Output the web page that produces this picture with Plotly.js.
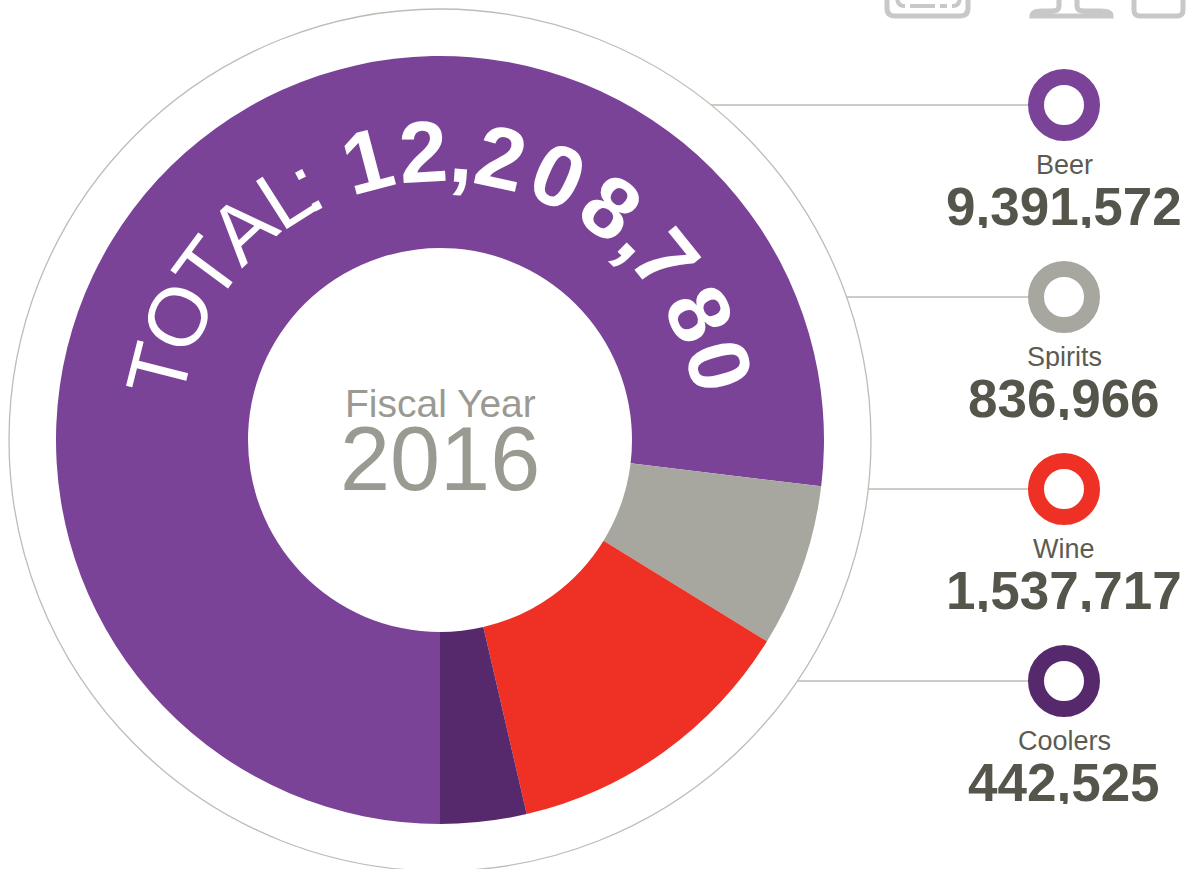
<!DOCTYPE html>
<html>
<head>
<meta charset="utf-8">
<script src="https://cdn.plot.ly/plotly-3.0.1.min.js"></script>
<style>
  html, body { margin: 0; padding: 0; background: #ffffff; }
  #chart { width: 1194px; height: 869px; }
</style>
</head>
<body>
<div id="chart"></div>
<script>
// ---- data ----
var categories = ['Beer', 'Spirits', 'Wine', 'Coolers'];
var values = [9391572, 836966, 1537717, 442525];
var sliceColors = ['#7a4398', '#a7a79f', '#ee3124', '#55296c'];
var centerLabel = 'Fiscal Year';
var fiscalYear = '2016';
var totalPrefix = 'TOTAL: ';

// ---- layout constants ----
var W = 1194, H = 869;
var CX = 440, CY = 440, R_OUT = 384, R_RING = 431;
var LEG_X = 1064, LEG_Y0 = 105, LEG_DY = 192;
var FONT = 'Liberation Sans, Arial, Helvetica, sans-serif';
var TEXT_R = 289;
// angles (deg, clockwise from 12 o'clock) of each non-space character of the arc text
var arcAngles = [-75.9, -64.8, -53.6, -43.0, -32.5, -27.7,
                 -14.7, -3.3, 4.4, 12.2, 24.0, 36.3, 44.7, 51.3, 64.0, 75.1];

function fmt(n) { return n.toLocaleString('en-US'); }
var total = values.reduce(function (a, b) { return a + b; }, 0);

var traces = [];
traces.push({
  type: 'pie',
  labels: categories,
  values: values,
  sort: false,
  direction: 'clockwise',
  rotation: 180,
  hole: 0.5,
  textinfo: 'none',
  hoverinfo: 'label+value',
  marker: { colors: sliceColors, line: { width: 0 } },
  domain: {
    x: [(CX - R_OUT) / W, (CX + R_OUT) / W],
    y: [(H - CY - R_OUT) / H, (H - CY + R_OUT) / H]
  },
  showlegend: false
});

var legY = categories.map(function (_, i) { return LEG_Y0 + LEG_DY * i; });
traces.push({
  type: 'scatter',
  mode: 'markers',
  x: categories.map(function () { return LEG_X; }),
  y: legY,
  marker: { symbol: 'circle-open', size: 56, color: sliceColors, line: { width: 16, color: sliceColors } },
  hoverinfo: 'skip',
  showlegend: false
});

var annotations = [];
// legend labels and values
categories.forEach(function (c, i) {
  annotations.push({
    x: LEG_X, y: legY[i] + 60, xref: 'x', yref: 'y', text: c, showarrow: false,
    xanchor: 'center', yanchor: 'middle', height: 24, valign: 'middle',
    font: { family: FONT, size: 27, color: '#5b5b52' }
  });
  annotations.push({
    x: LEG_X, y: legY[i] + 101, xref: 'x', yref: 'y', text: '<b>' + fmt(values[i]) + '</b>', showarrow: false,
    xanchor: 'center', yanchor: 'middle', height: 44, valign: 'middle',
    font: { family: FONT, size: 53, color: '#55554b' }
  });
});
// center text
annotations.push({
  x: CX, y: 403, xref: 'x', yref: 'y', text: centerLabel, showarrow: false,
  xanchor: 'center', yanchor: 'middle', height: 30, valign: 'middle',
  font: { family: FONT, size: 39, color: '#9a9a92' }
});
annotations.push({
  x: CX, y: 459, xref: 'x', yref: 'y', text: fiscalYear, showarrow: false,
  xanchor: 'center', yanchor: 'middle', height: 70, valign: 'middle',
  font: { family: FONT, size: 90, color: '#9a9a92' }
});
// curved total text
var arcText = totalPrefix + fmt(total);
var k = 0;
for (var j = 0; j < arcText.length; j++) {
  var ch = arcText[j];
  if (ch === ' ') continue;
  var bold = j >= totalPrefix.length;
  var deg = arcAngles[k++];
  var a = deg * Math.PI / 180;
  annotations.push({
    x: CX + TEXT_R * Math.sin(a), y: CY - TEXT_R * Math.cos(a),
    xref: 'x', yref: 'y', text: bold ? '<b>' + ch + '</b>' : ch, showarrow: false,
    xanchor: 'center', yanchor: 'middle', textangle: deg,
    font: { family: FONT, size: bold ? 87 : 83, color: '#ffffff' }
  });
}

var shapes = [];
shapes.push({
  type: 'circle', xref: 'x', yref: 'y', layer: 'below',
  x0: CX - R_RING, x1: CX + R_RING, y0: CY - R_RING, y1: CY + R_RING,
  line: { color: '#bdbdb5', width: 1.3 }
});
legY.forEach(function (y) {
  var dx = Math.sqrt(R_RING * R_RING - (y - CY) * (y - CY));
  shapes.push({
    type: 'line', xref: 'x', yref: 'y', layer: 'below',
    x0: CX + dx, x1: LEG_X - 30, y0: y, y1: y,
    line: { color: '#bdbdb5', width: 1.3 }
  });
});
// partial toolbar icons at top right
var iconLine = { color: '#c8c8c8', width: 5 };
shapes.push({ type: 'path', xref: 'x', yref: 'y', layer: 'above', line: iconLine,
  path: 'M 887,-10 L 887,8 Q 887,16 895,16 L 960,16 Q 968,16 968,8 L 968,-10' });
shapes.push({ type: 'path', xref: 'x', yref: 'y', layer: 'above', line: { color: '#c8c8c8', width: 4 },
  path: 'M 897,-4 Q 897,6 904,6 L 905,6 M 910,6 L 935,6 M 940,6 L 947,6 M 960,-4 Q 960,6 953,6 L 952,6' });
shapes.push({ type: 'path', xref: 'x', yref: 'y', layer: 'above', line: iconLine,
  path: 'M 1059,-5 L 1059,6 Q 1059,11 1052,11 L 1042,11 Q 1032,11 1032,16 L 1111,16 Q 1111,11 1101,11 L 1084,11 Q 1077,11 1077,6 L 1077,-5' });
shapes.push({ type: 'path', xref: 'x', yref: 'y', layer: 'above', line: iconLine,
  path: 'M 1134,-10 L 1134,10 Q 1134,16 1140,16 L 1177,16 Q 1183,16 1183,10 L 1183,-10' });

var layout = {
  width: W, height: H,
  margin: { l: 0, r: 0, t: 0, b: 0, pad: 0 },
  paper_bgcolor: '#ffffff', plot_bgcolor: 'rgba(0,0,0,0)',
  showlegend: false,
  xaxis: { range: [0, W], visible: false, fixedrange: true },
  yaxis: { range: [H, 0], visible: false, fixedrange: true },
  annotations: annotations,
  shapes: shapes
};

Plotly.newPlot('chart', traces, layout, { displayModeBar: false });
</script>
</body>
</html>
